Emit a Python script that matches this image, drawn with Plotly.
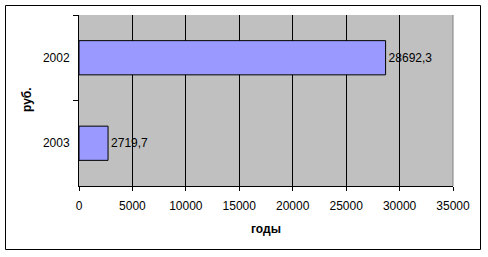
import plotly.graph_objects as go

categories = ["2002", "2003"]
values = [28692.3, 2719.7]
value_labels = ["28692,3", "2719,7"]
x_ticks = [0, 5000, 10000, 15000, 20000, 25000, 30000, 35000]

L, R, T, B = 79, 453, 15, 186
W, H = 488, 257
pw, ph = R - L, B - T

def px(x):
    return (x - L) / pw

def py(y):
    return (B - y) / ph

font = dict(family="Liberation Sans, Arial", size=12, color="black")

fig = go.Figure(go.Bar(
    y=categories, x=values, orientation="h",
    marker=dict(color="#9999FF", line=dict(color="black", width=1)),
    text=value_labels, textposition="outside", cliponaxis=False,
    textfont=font,
))

fig.update_layout(
    width=W, height=H,
    margin=dict(l=L, r=W - R, t=T, b=H - B),
    paper_bgcolor="white", plot_bgcolor="#C0C0C0",
    bargap=0.6, showlegend=False, font=font,
    xaxis=dict(range=[0, 35000], tickvals=x_ticks, ticktext=[str(v) for v in x_ticks],
               showgrid=True, gridcolor="black", gridwidth=1,
               showline=True, linecolor="black", linewidth=1,
               ticks="outside", ticklen=4, tickcolor="black", zeroline=False,
               tickfont=font, ticklabelstandoff=5),
    yaxis=dict(categoryorder="array", categoryarray=categories, autorange="reversed",
               showline=True, linecolor="black", linewidth=1,
               ticks="outside", ticklen=5, tickcolor="black", tickson="boundaries",
               showgrid=False, tickfont=font, ticklabelstandoff=6),
    shapes=[
        dict(type="line", xref="paper", yref="paper", x0=1, x1=1, y0=0, y1=1,
             line=dict(color="#808080", width=1)),
        dict(type="rect", xref="paper", yref="paper",
             x0=px(5.5), x1=px(480.5), y0=py(5.5), y1=py(249.5),
             line=dict(color="black", width=1), fillcolor="rgba(0,0,0,0)"),
    ],
    annotations=[
        dict(text="<b>годы</b>", xref="paper", yref="paper", x=px(266), y=py(229),
             showarrow=False, font=font, xanchor="center", yanchor="middle"),
        dict(text="<b>руб.</b>", xref="paper", yref="paper", x=px(27), y=py(100),
             showarrow=False, font=font, textangle=-90, xanchor="center", yanchor="middle"),
    ],
)

fig.write_html("out.html")
